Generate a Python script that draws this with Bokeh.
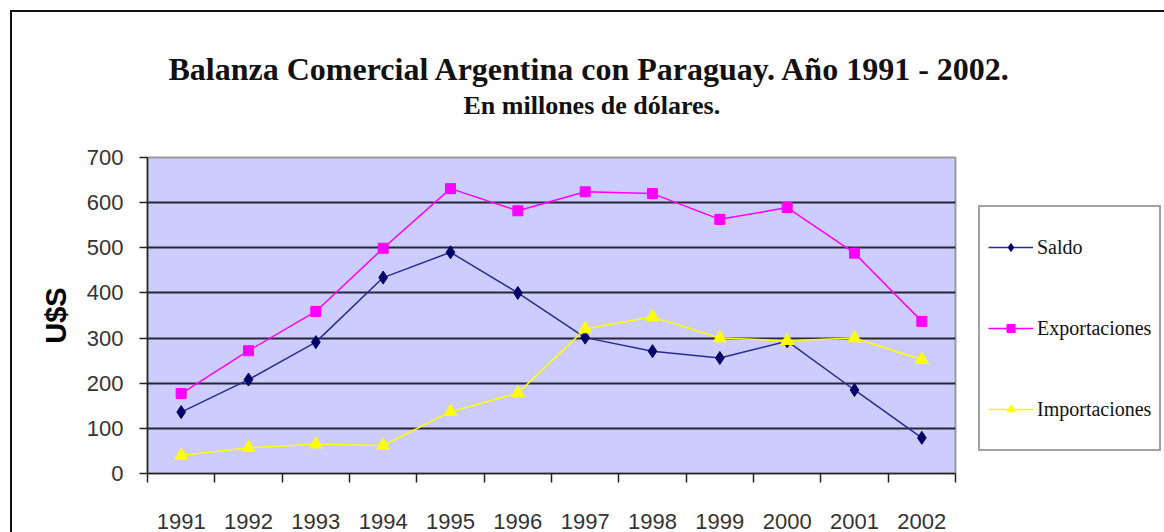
from bokeh.plotting import figure
from bokeh.models import Range1d, FixedTicker, Title, Legend, LegendItem
from bokeh.embed import file_html
from bokeh.resources import INLINE

years = ["1991", "1992", "1993", "1994", "1995", "1996",
         "1997", "1998", "1999", "2000", "2001", "2002"]
saldo = [136, 208, 291, 434, 490, 400, 301, 271, 256, 293, 185, 79]
exportaciones = [177, 272, 359, 499, 631, 582, 624, 620, 563, 589, 488, 337]
importaciones = [40, 57, 65, 62, 137, 178, 320, 347, 300, 294, 300, 252]
y_ticks = [0, 100, 200, 300, 400, 500, 600, 700]
grid_ticks = [100, 200, 300, 400, 500, 600]

x_centers = [i + 0.5 for i in range(len(years))]
slot_edges = list(range(len(years) + 1))

p = figure(output_backend="svg", toolbar_location=None,
           frame_width=808, frame_height=316,
           x_range=Range1d(0, len(years)), y_range=Range1d(0, 700),
           min_border_left=135, min_border_right=209,
           min_border_top=145, min_border_bottom=59,
           title="Balanza Comercial Argentina con Paraguay. Año 1991 - 2002.")
p.styles = {"border-top": "2px solid #111", "border-left": "2px solid #111",
            "margin-left": "10px", "margin-top": "10px"}

p.background_fill_color = "#CCCCFF"
p.border_fill_color = "white"
p.outline_line_color = "#9a9a9a"
p.outline_line_width = 2

# titles (stacked upward from the frame: spacer, subtitle, title)
spacer = Title(text=" ", text_font_size="10px", standoff=25)
p.add_layout(spacer, "above")
sub = Title(text="En millones de dólares.", text_font="Liberation Serif",
            text_font_size="26px", text_font_style="bold", text_color="#111",
            align="left", offset=316, standoff=0)
p.add_layout(sub, "above")
p.title.text_font = "Liberation Serif"
p.title.text_font_size = "32px"
p.title.text_font_style = "bold"
p.title.text_color = "#111"
p.title.align = "left"
p.title.offset = 21
p.title.standoff = 4

# axes
p.yaxis.ticker = FixedTicker(ticks=y_ticks)
p.yaxis.axis_label = "U$S"
p.yaxis.axis_label_text_font = "Liberation Sans"
p.yaxis.axis_label_text_font_style = "bold"
p.yaxis.axis_label_text_font_size = "29px"
p.yaxis.axis_label_text_color = "#000"
p.yaxis.axis_label_standoff = 12
p.yaxis.major_label_text_font = "Liberation Sans"
p.yaxis.major_label_text_font_size = "22px"
p.yaxis.major_label_text_color = "#333"
p.yaxis.major_label_standoff = 16
p.yaxis.major_tick_out = 8
p.yaxis.major_tick_in = 0
p.yaxis.minor_tick_line_color = None
p.yaxis.axis_line_color = "#222"
p.yaxis.axis_line_width = 1.5
p.yaxis.major_tick_line_color = "#222"
p.yaxis.major_tick_line_width = 1.5

p.xaxis.ticker = FixedTicker(ticks=x_centers, minor_ticks=slot_edges)
p.xaxis.major_label_overrides = {xc: yr for xc, yr in zip(x_centers, years)}
p.xaxis.major_tick_line_color = None
p.xaxis.minor_tick_out = 9
p.xaxis.minor_tick_in = 0
p.xaxis.minor_tick_line_color = "#222"
p.xaxis.minor_tick_line_width = 1.5
p.xaxis.axis_line_color = "#222"
p.xaxis.axis_line_width = 1.5
p.xaxis.major_label_text_font = "Liberation Sans"
p.xaxis.major_label_text_font_size = "22px"
p.xaxis.major_label_text_color = "#333"
p.xaxis.major_label_standoff = 31

p.xgrid.visible = False
p.ygrid.ticker = FixedTicker(ticks=grid_ticks)
p.ygrid.grid_line_color = "#262636"
p.ygrid.grid_line_width = 2

# series
l1 = p.line(x_centers, saldo, line_color="#2a2a96", line_width=1.5)
m1 = p.scatter(x_centers, saldo, marker="diamond", size=13,
               fill_color="#000066", line_color="#000066")
l2 = p.line(x_centers, exportaciones, line_color="#FF00FF", line_width=1.5)
m2 = p.scatter(x_centers, exportaciones, marker="square", size=10,
               fill_color="#FF00FF", line_color="#FF00FF")
l3 = p.line(x_centers, importaciones, line_color="#FFFF00", line_width=1.5)
m3 = p.scatter(x_centers, importaciones, marker="triangle", size=13,
               fill_color="#FFFF00", line_color="#FFFF00")

legend = Legend(items=[
    LegendItem(label="Saldo", renderers=[l1, m1]),
    LegendItem(label="Exportaciones", renderers=[l2, m2]),
    LegendItem(label="Importaciones", renderers=[l3, m3]),
], location=(23, 22))
legend.label_text_font = "Liberation Serif"
legend.label_text_font_size = "20px"
legend.label_text_color = "#111"
legend.glyph_width = 45
legend.glyph_height = 20
legend.label_standoff = 4
legend.padding = 8
legend.spacing = 17
legend.label_height = 64
legend.margin = 0
legend.border_line_color = "#444"
legend.border_line_width = 2
legend.background_fill_color = "white"
legend.background_fill_alpha = 1
p.add_layout(legend, "right")

open("out.html", "w").write(file_html(p, INLINE))
